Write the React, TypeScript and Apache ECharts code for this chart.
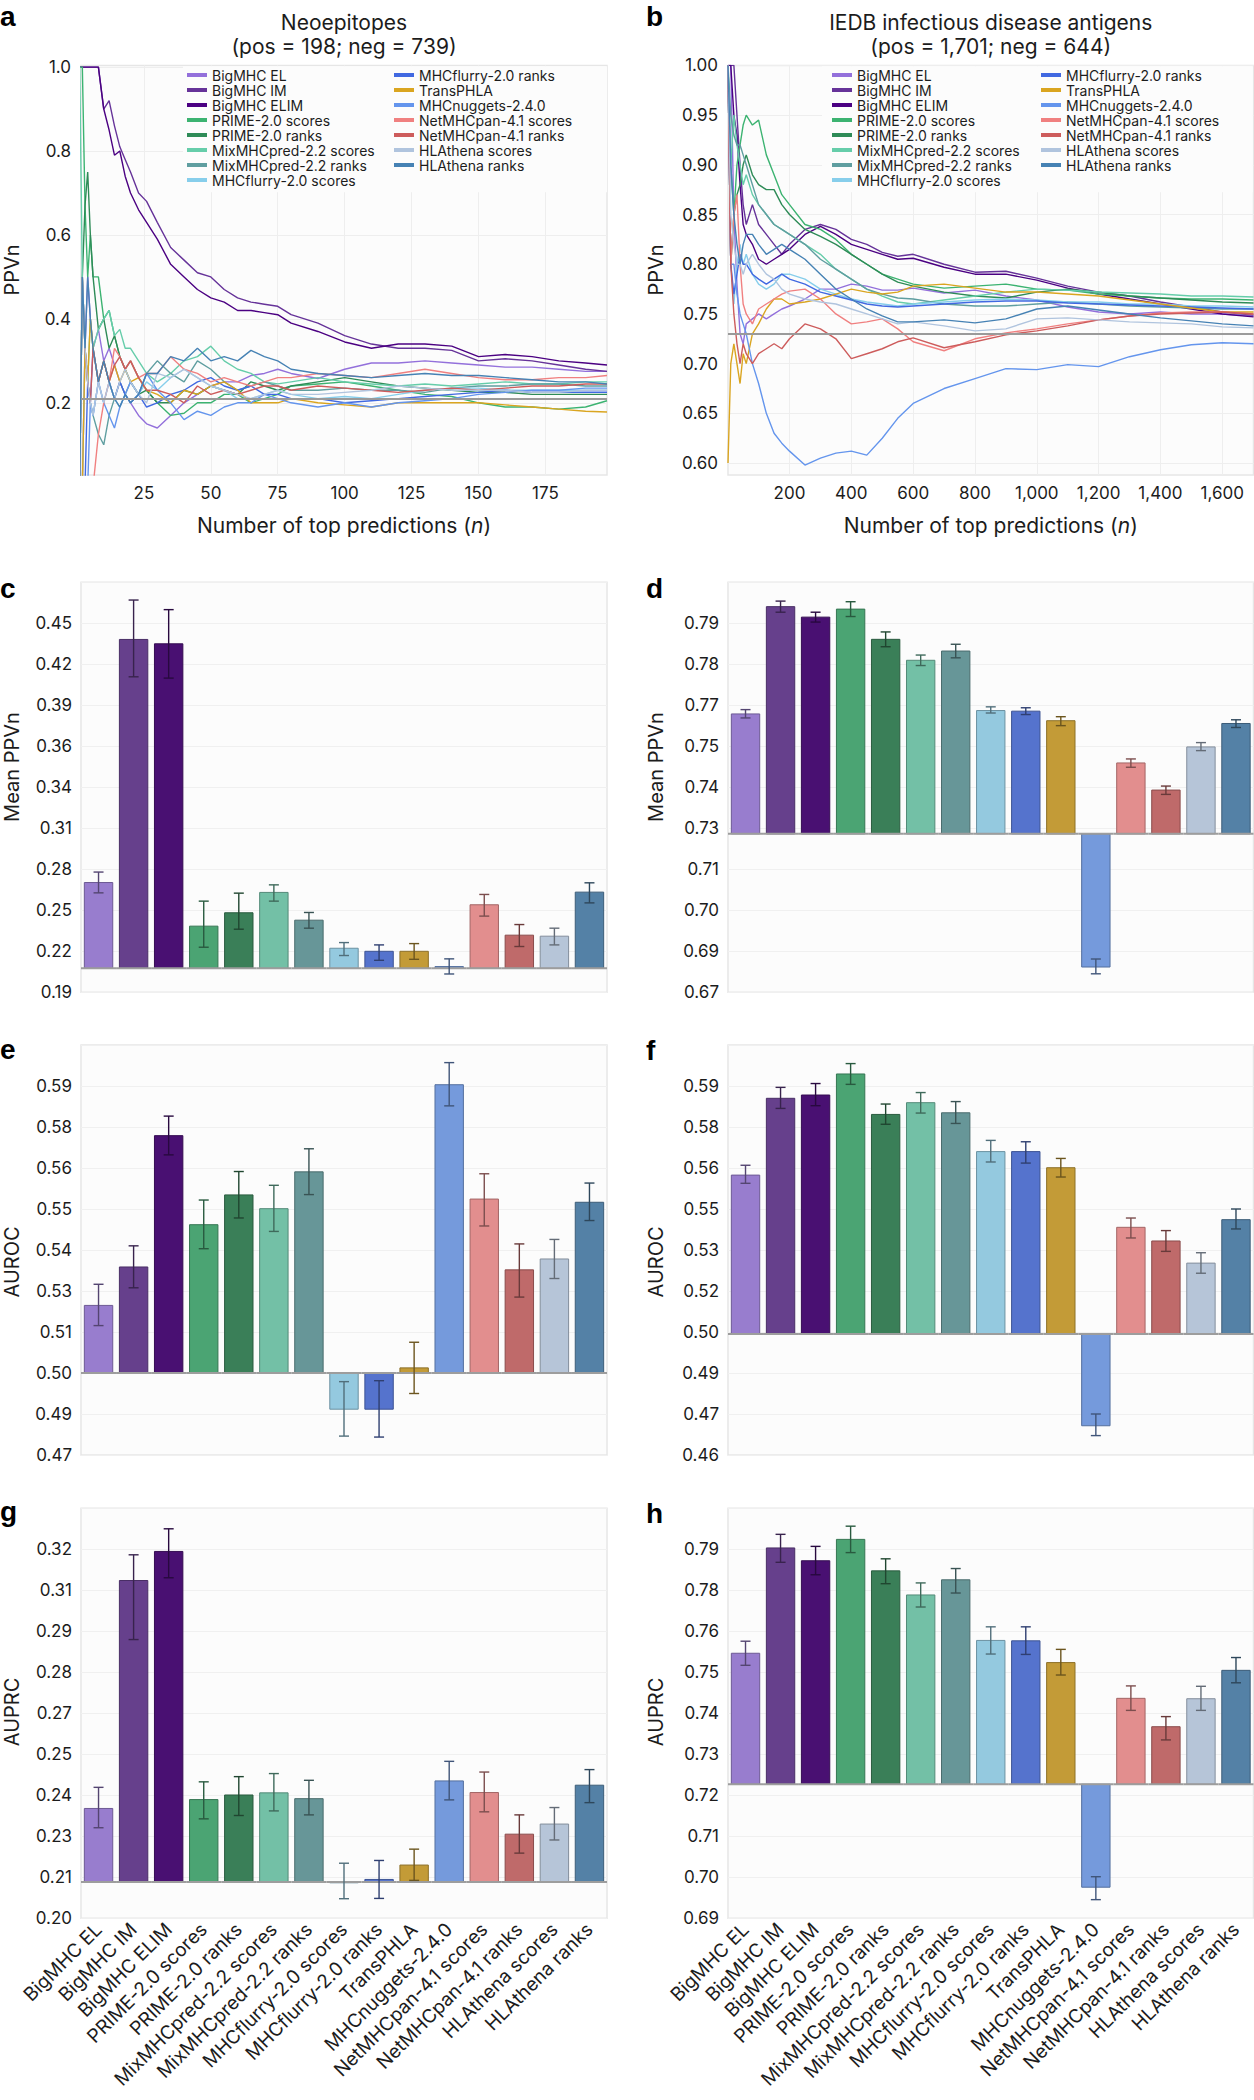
import React, { useEffect, useRef } from "react";
import * as echarts from "echarts";

const FONT = 'Inter, "Noto Sans", "DejaVu Sans", sans-serif';
const INK = "#1c1c1c";

// ---------- categories ----------
const methods = [
  "BigMHC EL", "BigMHC IM", "BigMHC ELIM", "PRIME-2.0 scores", "PRIME-2.0 ranks",
  "MixMHCpred-2.2 scores", "MixMHCpred-2.2 ranks", "MHCflurry-2.0 scores", "MHCflurry-2.0 ranks",
  "TransPHLA", "MHCnuggets-2.4.0", "NetMHCpan-4.1 scores", "NetMHCpan-4.1 ranks",
  "HLAthena scores", "HLAthena ranks",
];
const lineColors = [
  "#9370db", "#663399", "#4b0082", "#3cb371", "#2e8b57", "#66cdaa", "#5f9ea0", "#87ceeb",
  "#4169e1", "#daa520", "#6495ed", "#f08080", "#cd5c5c", "#b0c4de", "#4682b4",
];
const barColors = [
  "#987dce", "#66408c", "#491072", "#4ba473", "#3a7f58", "#73c0a6", "#679698", "#94c9df",
  "#5573cd", "#c39b37", "#759adc", "#e28e8e", "#bf6a6a", "#b6c5d8", "#5481a6",
];

// ---------- panel a: PPVn vs n (neoepitopes) ----------
const nNeo = [1, 2, 3, 4, 5, 6, 8, 10, 12, 14, 16, 18, 20, 23, 26, 30, 35, 40, 45, 50, 55, 60, 65, 70, 75, 80, 90, 100, 110, 120, 130, 140, 150, 160, 170, 180, 190, 198];
const neoEL = [0, 0, 0.33, 0.5, 0.4, 0.33, 0.375, 0.3, 0.33, 0.29, 0.25, 0.22, 0.2, 0.17, 0.15, 0.14, 0.17, 0.2, 0.22, 0.24, 0.25, 0.25, 0.265, 0.27, 0.28, 0.27, 0.258, 0.28, 0.295, 0.295, 0.3, 0.295, 0.29, 0.285, 0.285, 0.28, 0.275, 0.275];
const neoIM = [1, 1, 1, 1, 1, 1, 1, 0.9, 0.92, 0.86, 0.81, 0.78, 0.75, 0.7, 0.68, 0.63, 0.57, 0.54, 0.51, 0.5, 0.47, 0.45, 0.44, 0.435, 0.43, 0.41, 0.39, 0.36, 0.34, 0.33, 0.33, 0.325, 0.3, 0.305, 0.3, 0.29, 0.28, 0.275];
const neoELIM = [1, 1, 1, 1, 1, 1, 1, 0.9, 0.85, 0.79, 0.8, 0.74, 0.7, 0.66, 0.63, 0.59, 0.53, 0.5, 0.47, 0.45, 0.44, 0.42, 0.42, 0.415, 0.41, 0.39, 0.37, 0.345, 0.33, 0.34, 0.34, 0.335, 0.31, 0.315, 0.31, 0.3, 0.295, 0.29];
const neoPrimeS = [1, 1, 0.67, 0.5, 0.6, 0.5, 0.5, 0.4, 0.42, 0.36, 0.31, 0.28, 0.3, 0.26, 0.23, 0.2, 0.17, 0.175, 0.2, 0.2, 0.22, 0.22, 0.2, 0.21, 0.22, 0.24, 0.245, 0.25, 0.24, 0.23, 0.22, 0.215, 0.2, 0.19, 0.19, 0.185, 0.19, 0.205];
const neoPrimeR = [0, 0.5, 0.67, 0.75, 0.6, 0.5, 0.375, 0.4, 0.33, 0.36, 0.31, 0.28, 0.25, 0.22, 0.23, 0.2, 0.2, 0.23, 0.22, 0.24, 0.23, 0.22, 0.25, 0.24, 0.23, 0.24, 0.25, 0.26, 0.25, 0.24, 0.235, 0.23, 0.225, 0.225, 0.22, 0.22, 0.22, 0.22];
const neoMixS = [1, 0.5, 0.33, 0.25, 0.4, 0.33, 0.375, 0.4, 0.42, 0.36, 0.375, 0.33, 0.33, 0.3, 0.27, 0.25, 0.27, 0.3, 0.31, 0.335, 0.3, 0.28, 0.27, 0.25, 0.245, 0.25, 0.26, 0.25, 0.245, 0.24, 0.245, 0.24, 0.245, 0.25, 0.245, 0.245, 0.25, 0.25];
const neoMixR = [0, 0.5, 0.33, 0.25, 0.2, 0.17, 0.125, 0.1, 0.17, 0.21, 0.25, 0.22, 0.25, 0.22, 0.27, 0.3, 0.27, 0.25, 0.3, 0.28, 0.25, 0.23, 0.24, 0.25, 0.24, 0.23, 0.23, 0.235, 0.23, 0.23, 0.225, 0.235, 0.24, 0.24, 0.245, 0.245, 0.24, 0.24];
const neoFlurryS = [0, 0, 0.33, 0.25, 0.2, 0.17, 0.25, 0.2, 0.25, 0.21, 0.19, 0.22, 0.2, 0.22, 0.25, 0.23, 0.26, 0.28, 0.26, 0.24, 0.23, 0.21, 0.21, 0.22, 0.23, 0.22, 0.21, 0.215, 0.21, 0.22, 0.23, 0.235, 0.235, 0.23, 0.23, 0.23, 0.23, 0.23];
const neoFlurryR = [0, 0, 0, 0.25, 0.2, 0.33, 0.25, 0.3, 0.25, 0.21, 0.25, 0.22, 0.2, 0.22, 0.19, 0.2, 0.22, 0.23, 0.25, 0.26, 0.24, 0.23, 0.24, 0.22, 0.22, 0.21, 0.21, 0.2, 0.205, 0.21, 0.215, 0.22, 0.225, 0.23, 0.225, 0.225, 0.225, 0.225];
const neoTrans = [0, 0, 0.33, 0.25, 0.4, 0.33, 0.25, 0.3, 0.25, 0.29, 0.25, 0.28, 0.25, 0.26, 0.23, 0.22, 0.2, 0.23, 0.22, 0.24, 0.25, 0.23, 0.2, 0.2, 0.2, 0.21, 0.2, 0.195, 0.19, 0.2, 0.2, 0.2, 0.2, 0.195, 0.19, 0.185, 0.18, 0.178];
const neoNuggets = [0, 0, 0, 0, 0.2, 0.17, 0.25, 0.2, 0.17, 0.14, 0.19, 0.22, 0.25, 0.22, 0.27, 0.23, 0.2, 0.16, 0.18, 0.17, 0.19, 0.2, 0.2, 0.22, 0.21, 0.2, 0.19, 0.2, 0.19, 0.2, 0.205, 0.21, 0.22, 0.225, 0.23, 0.23, 0.235, 0.235];
const neoNetS = [0, 0, 0, 0, 0, 0, 0.125, 0.2, 0.25, 0.33, 0.31, 0.28, 0.3, 0.26, 0.27, 0.27, 0.31, 0.28, 0.27, 0.25, 0.26, 0.25, 0.24, 0.25, 0.26, 0.26, 0.27, 0.265, 0.26, 0.27, 0.28, 0.27, 0.26, 0.255, 0.255, 0.26, 0.26, 0.265];
const neoNetR = [0, 0.5, 0.33, 0.25, 0.2, 0.33, 0.25, 0.3, 0.25, 0.29, 0.31, 0.28, 0.3, 0.26, 0.23, 0.23, 0.22, 0.2, 0.24, 0.22, 0.23, 0.22, 0.23, 0.24, 0.24, 0.23, 0.24, 0.235, 0.23, 0.225, 0.23, 0.235, 0.23, 0.235, 0.24, 0.24, 0.245, 0.245];
const neoHlaS = [0, 0.5, 0.33, 0.25, 0.2, 0.17, 0.25, 0.2, 0.25, 0.21, 0.25, 0.28, 0.25, 0.22, 0.2, 0.27, 0.26, 0.28, 0.26, 0.24, 0.23, 0.22, 0.21, 0.22, 0.23, 0.22, 0.22, 0.225, 0.23, 0.24, 0.235, 0.23, 0.23, 0.23, 0.225, 0.225, 0.23, 0.23];
const neoHlaR = [0, 0.5, 0.33, 0.5, 0.4, 0.33, 0.25, 0.3, 0.25, 0.21, 0.19, 0.22, 0.2, 0.22, 0.27, 0.27, 0.31, 0.3, 0.33, 0.3, 0.31, 0.3, 0.325, 0.31, 0.3, 0.28, 0.27, 0.265, 0.26, 0.265, 0.27, 0.265, 0.265, 0.26, 0.255, 0.25, 0.25, 0.245];
const ppvNeo = [neoEL, neoIM, neoELIM, neoPrimeS, neoPrimeR, neoMixS, neoMixR, neoFlurryS, neoFlurryR, neoTrans, neoNuggets, neoNetS, neoNetR, neoHlaS, neoHlaR];

// ---------- panel b: PPVn vs n (IEDB) ----------
const nIedb = [1, 10, 20, 30, 40, 50, 60, 80, 100, 125, 150, 175, 200, 250, 300, 350, 400, 450, 500, 550, 600, 700, 800, 900, 1000, 1100, 1200, 1300, 1400, 1500, 1600, 1701];
const iedbEL = [1, 1, 0.85, 0.78, 0.73, 0.72, 0.74, 0.745, 0.75, 0.745, 0.75, 0.755, 0.758, 0.765, 0.775, 0.775, 0.78, 0.778, 0.774, 0.774, 0.776, 0.771, 0.774, 0.768, 0.764, 0.757, 0.752, 0.75, 0.752, 0.75, 0.75, 0.748];
const iedbIM = [1, 1, 1, 0.95, 0.9, 0.86, 0.84, 0.86, 0.84, 0.83, 0.82, 0.81, 0.82, 0.835, 0.84, 0.835, 0.825, 0.82, 0.812, 0.808, 0.81, 0.8, 0.792, 0.793, 0.786, 0.778, 0.772, 0.768, 0.762, 0.757, 0.752, 0.749];
const iedbELIM = [1, 1, 0.95, 0.93, 0.88, 0.84, 0.83, 0.82, 0.805, 0.8, 0.805, 0.81, 0.815, 0.83, 0.838, 0.83, 0.82, 0.815, 0.81, 0.805, 0.806, 0.797, 0.79, 0.79, 0.784, 0.776, 0.77, 0.765, 0.76, 0.755, 0.75, 0.747];
const iedbPrimeS = [1, 0.9, 0.85, 0.9, 0.92, 0.94, 0.95, 0.94, 0.945, 0.91, 0.89, 0.87, 0.86, 0.84, 0.835, 0.825, 0.81, 0.8, 0.79, 0.785, 0.78, 0.776, 0.778, 0.78, 0.775, 0.774, 0.77, 0.768, 0.766, 0.765, 0.765, 0.764];
const iedbPrimeR = [1, 0.8, 0.85, 0.87, 0.88, 0.9, 0.91, 0.89, 0.88, 0.875, 0.875, 0.86, 0.85, 0.835, 0.828, 0.82, 0.81, 0.8, 0.79, 0.782, 0.778, 0.772, 0.768, 0.766, 0.772, 0.775, 0.772, 0.768, 0.766, 0.764, 0.762, 0.761];
const iedbMixS = [1, 0.9, 0.95, 0.92, 0.9, 0.88, 0.89, 0.87, 0.86, 0.85, 0.84, 0.835, 0.83, 0.82, 0.81, 0.795, 0.785, 0.775, 0.768, 0.762, 0.76, 0.764, 0.768, 0.772, 0.775, 0.774, 0.772, 0.771, 0.77, 0.768, 0.768, 0.767];
const iedbMixR = [1, 0.95, 0.93, 0.92, 0.92, 0.91, 0.9, 0.88, 0.86, 0.85, 0.84, 0.835, 0.83, 0.82, 0.805, 0.795, 0.785, 0.775, 0.77, 0.766, 0.765, 0.76, 0.758, 0.758, 0.76, 0.762, 0.76, 0.758, 0.757, 0.756, 0.755, 0.755];
const iedbFlurryS = [1, 0.8, 0.76, 0.8, 0.82, 0.8, 0.81, 0.79, 0.78, 0.775, 0.78, 0.79, 0.79, 0.785, 0.775, 0.77, 0.765, 0.762, 0.76, 0.758, 0.76, 0.762, 0.764, 0.765, 0.764, 0.762, 0.762, 0.76, 0.76, 0.758, 0.758, 0.757];
const iedbFlurryR = [1, 0.8, 0.77, 0.79, 0.81, 0.8, 0.8, 0.79, 0.785, 0.78, 0.785, 0.79, 0.785, 0.78, 0.772, 0.768, 0.764, 0.76, 0.758, 0.757, 0.758, 0.76, 0.762, 0.763, 0.763, 0.761, 0.76, 0.759, 0.758, 0.757, 0.756, 0.755];
const iedbTrans = [0.6, 0.7, 0.72, 0.7, 0.68, 0.71, 0.7, 0.73, 0.74, 0.755, 0.765, 0.765, 0.76, 0.762, 0.765, 0.77, 0.775, 0.772, 0.77, 0.772, 0.778, 0.78, 0.776, 0.772, 0.772, 0.77, 0.768, 0.764, 0.76, 0.756, 0.752, 0.752];
const iedbNuggets = [1, 0.8, 0.8, 0.77, 0.75, 0.74, 0.73, 0.7, 0.68, 0.65, 0.63, 0.62, 0.612, 0.598, 0.605, 0.61, 0.612, 0.608, 0.625, 0.645, 0.66, 0.675, 0.685, 0.695, 0.694, 0.699, 0.697, 0.707, 0.714, 0.719, 0.721, 0.72];
const iedbNetS = [1, 0.8, 0.85, 0.87, 0.8, 0.76, 0.75, 0.74, 0.755, 0.76, 0.765, 0.77, 0.773, 0.775, 0.765, 0.75, 0.74, 0.742, 0.745, 0.735, 0.722, 0.713, 0.725, 0.731, 0.735, 0.74, 0.744, 0.748, 0.751, 0.752, 0.752, 0.75];
const iedbNetR = [1, 0.8, 0.75, 0.72, 0.7, 0.72, 0.71, 0.7, 0.71, 0.715, 0.72, 0.715, 0.725, 0.74, 0.735, 0.725, 0.705, 0.71, 0.715, 0.722, 0.726, 0.716, 0.722, 0.729, 0.733, 0.738, 0.744, 0.748, 0.75, 0.751, 0.752, 0.75];
const iedbHlaS = [1, 0.85, 0.82, 0.8, 0.8, 0.79, 0.8, 0.81, 0.8, 0.79, 0.785, 0.775, 0.77, 0.765, 0.762, 0.76, 0.755, 0.75, 0.745, 0.74, 0.742, 0.738, 0.733, 0.735, 0.745, 0.746, 0.744, 0.742, 0.741, 0.74, 0.737, 0.736];
const iedbHlaR = [1, 0.9, 0.85, 0.82, 0.8, 0.82, 0.83, 0.83, 0.82, 0.81, 0.815, 0.82, 0.815, 0.805, 0.79, 0.775, 0.765, 0.755, 0.748, 0.742, 0.742, 0.744, 0.741, 0.745, 0.755, 0.758, 0.754, 0.75, 0.746, 0.743, 0.74, 0.738];
const ppvIedb = [iedbEL, iedbIM, iedbELIM, iedbPrimeS, iedbPrimeR, iedbMixS, iedbMixR, iedbFlurryS, iedbFlurryR, iedbTrans, iedbNuggets, iedbNetS, iedbNetR, iedbHlaS, iedbHlaR];

// random-classifier baselines
const baseNeo = 0.2113; // 198 / 937
const baseIedb = 0.7254; // 1701 / 2345
const baseRoc = 0.5;

// tick values for panels a and b
const ticksXNeo = [25, 50, 75, 100, 125, 150, 175];
const ticksYNeo = [0.2, 0.4, 0.6, 0.8, 1.0];
const ticksXIedb = [200, 400, 600, 800, 1000, 1200, 1400, 1600];
const ticksYIedb = [0.6, 0.65, 0.7, 0.75, 0.8, 0.85, 0.9, 0.95, 1.0];

// ---------- bar panels: mean, lower, upper ----------
const meanPpvNeo = [0.2703, 0.4375, 0.4345, 0.2403, 0.2495, 0.2635, 0.2444, 0.2251, 0.2230, 0.2230, 0.2125, 0.2550, 0.2341, 0.2334, 0.2637];
const meanPpvNeoLo = [0.2632, 0.4118, 0.4109, 0.2258, 0.2382, 0.2575, 0.2389, 0.2201, 0.2168, 0.2175, 0.2074, 0.2472, 0.2263, 0.2274, 0.2563];
const meanPpvNeoHi = [0.2775, 0.4646, 0.4580, 0.2575, 0.2630, 0.2687, 0.2497, 0.2290, 0.2274, 0.2283, 0.2178, 0.2621, 0.2414, 0.2389, 0.2701];

const meanPpvIedb = [0.7643, 0.7991, 0.7957, 0.7983, 0.7885, 0.7817, 0.7847, 0.7654, 0.7652, 0.7621, 0.6822, 0.7484, 0.7396, 0.7536, 0.7612];
const meanPpvIedbLo = [0.7630, 0.7973, 0.7941, 0.7959, 0.7861, 0.7800, 0.7825, 0.7646, 0.7641, 0.7605, 0.6800, 0.7470, 0.7382, 0.7524, 0.7599];
const meanPpvIedbHi = [0.7657, 0.8009, 0.7973, 0.8007, 0.7909, 0.7834, 0.7869, 0.7666, 0.7663, 0.7634, 0.6848, 0.7497, 0.7409, 0.7550, 0.7624];

const aurocNeo = [0.5211, 0.5331, 0.5741, 0.5463, 0.5556, 0.5513, 0.5628, 0.4887, 0.4887, 0.5016, 0.5900, 0.5543, 0.5322, 0.5356, 0.5533];
const aurocNeoLo = [0.5148, 0.5266, 0.5681, 0.5388, 0.5484, 0.5442, 0.5557, 0.4803, 0.4800, 0.4936, 0.5834, 0.5459, 0.5237, 0.5295, 0.5476];
const aurocNeoHi = [0.5277, 0.5397, 0.5802, 0.5540, 0.5629, 0.5586, 0.5700, 0.4973, 0.4976, 0.5096, 0.5969, 0.5622, 0.5403, 0.5417, 0.5593];

const aurocIedb = [0.5581, 0.5862, 0.5874, 0.5951, 0.5803, 0.5846, 0.5809, 0.5667, 0.5667, 0.5608, 0.4664, 0.5390, 0.5340, 0.5259, 0.5418];
const aurocIedbLo = [0.5551, 0.5825, 0.5835, 0.5913, 0.5767, 0.5808, 0.5770, 0.5629, 0.5625, 0.5574, 0.4628, 0.5351, 0.5302, 0.5222, 0.5384];
const aurocIedbHi = [0.5617, 0.5902, 0.5916, 0.5989, 0.5841, 0.5883, 0.5850, 0.5708, 0.5703, 0.5642, 0.4707, 0.5424, 0.5378, 0.5297, 0.5457];

const auprcNeo = [0.2353, 0.3098, 0.3193, 0.2382, 0.2397, 0.2404, 0.2385, 0.2110, 0.2121, 0.2168, 0.2443, 0.2405, 0.2269, 0.2302, 0.2429];
const auprcNeoLo = [0.2290, 0.2905, 0.3107, 0.2319, 0.2330, 0.2345, 0.2332, 0.2058, 0.2059, 0.2118, 0.2381, 0.2342, 0.2207, 0.2250, 0.2372];
const auprcNeoHi = [0.2422, 0.3182, 0.3267, 0.2440, 0.2457, 0.2467, 0.2445, 0.2174, 0.2183, 0.2220, 0.2507, 0.2472, 0.2332, 0.2356, 0.2480];

const auprcIedb = [0.7591, 0.7862, 0.7829, 0.7884, 0.7803, 0.7741, 0.7780, 0.7624, 0.7623, 0.7567, 0.6989, 0.7475, 0.7402, 0.7474, 0.7547];
const auprcIedbLo = [0.7560, 0.7825, 0.7793, 0.7850, 0.7770, 0.7710, 0.7746, 0.7589, 0.7588, 0.7535, 0.6957, 0.7444, 0.7368, 0.7444, 0.7515];
const auprcIedbHi = [0.7622, 0.7897, 0.7866, 0.7918, 0.7834, 0.7772, 0.7809, 0.7659, 0.7659, 0.7601, 0.7016, 0.7507, 0.7428, 0.7506, 0.7580];

// bar-panel y axes: first tick and tick step (10 steps per panel)
const axisMeanPpvNeo = { min: 0.1948, step: 0.0282 };
const axisMeanPpvIedb = { min: 0.674, step: 0.0133 };
const axisAurocNeo = { min: 0.4744, step: 0.0128 };
const axisAurocIedb = { min: 0.4557, step: 0.015 };
const axisAuprcNeo = { min: 0.1994, step: 0.0134 };
const axisAuprcIedb = { min: 0.6909, step: 0.01055 };

function shade(hex: string, f: number) {
  const n = parseInt(hex.slice(1), 16);
  const r = Math.round(((n >> 16) & 255) * f);
  const g = Math.round(((n >> 8) & 255) * f);
  const b = Math.round((n & 255) * f);
  return `rgb(${r},${g},${b})`;
}

const LEFT_X = 81;
const RIGHT_X = 728;
const PW = 526;
const rowsTop = [65.4, 582.3, 1045, 1508.3];
const rowsH = [409.6, 410, 410, 410];

export default function App() {
  const ref = useRef<HTMLDivElement>(null);

  useEffect(() => {
    document.body.style.margin = "0";
    if (!ref.current) return;
    const chart = echarts.init(ref.current, null, { renderer: "svg" });

    const grids: any[] = [];
    const xAxes: any[] = [];
    const yAxes: any[] = [];
    const series: any[] = [];
    const gridBase = {
      show: true,
      backgroundColor: "#fcfcfc",
      borderColor: "#e6e6e6",
      borderWidth: 1.5,
      containLabel: false,
    };
    const lbl = { fontFamily: FONT, fontSize: 17, color: INK };
    const split = { show: true, lineStyle: { color: "#eeeeee", width: 1 } };

    // ---- line panels (grid 0, 1)
    const linePanels = [
      { left: LEFT_X, n: nNeo, ppv: ppvNeo, base: baseNeo, xmin: 1.5, xmax: 198, ymin: 0.028, ymax: 1.004, xt: ticksXNeo, yt: ticksYNeo, yd: 1 },
      { left: RIGHT_X, n: nIedb, ppv: ppvIedb, base: baseIedb, xmin: 1, xmax: 1701, ymin: 0.588, ymax: 1.0, xt: ticksXIedb, yt: ticksYIedb, yd: 2 },
    ];
    linePanels.forEach((p, gi) => {
      grids.push({ ...gridBase, left: p.left, top: rowsTop[0], width: gi === 0 ? PW : 1253.5 - RIGHT_X, height: rowsH[0] });
      xAxes.push({
        gridIndex: gi, type: "value", min: p.xmin, max: p.xmax,
        axisLine: { show: false },
        axisTick: { show: false, customValues: p.xt },
        axisLabel: { ...lbl, margin: 9, customValues: p.xt, formatter: (v: number) => v.toLocaleString("en-US") },
        splitLine: split,
      });
      yAxes.push({
        gridIndex: gi, type: "value", min: p.ymin, max: p.ymax,
        axisLine: { show: false },
        axisTick: { show: false, customValues: p.yt },
        axisLabel: { ...lbl, margin: 10, customValues: p.yt, formatter: (v: number) => v.toFixed(p.yd) },
        splitLine: split,
      });
      p.ppv.forEach((arr, k) => {
        series.push({
          type: "line", name: methods[k], xAxisIndex: gi, yAxisIndex: gi,
          data: p.n.map((n, i) => [n, arr[i]]),
          showSymbol: false, symbol: "none", silent: true, z: 3,
          lineStyle: { width: 1.4, color: lineColors[k] },
          itemStyle: { color: lineColors[k] },
          markLine: k === 0 ? {
            silent: true, symbol: ["none", "none"], label: { show: false },
            lineStyle: { color: "#9a9a9a", width: 2, type: "solid" },
            data: [{ yAxis: p.base }],
          } : undefined,
        });
      });
    });

    // ---- bar panels (grid 2..7)
    const barPanels = [
      { left: LEFT_X, row: 1, mean: meanPpvNeo, lo: meanPpvNeoLo, hi: meanPpvNeoHi, base: baseNeo, ax: axisMeanPpvNeo, labels: false },
      { left: RIGHT_X, row: 1, mean: meanPpvIedb, lo: meanPpvIedbLo, hi: meanPpvIedbHi, base: baseIedb, ax: axisMeanPpvIedb, labels: false },
      { left: LEFT_X, row: 2, mean: aurocNeo, lo: aurocNeoLo, hi: aurocNeoHi, base: baseRoc, ax: axisAurocNeo, labels: false },
      { left: RIGHT_X, row: 2, mean: aurocIedb, lo: aurocIedbLo, hi: aurocIedbHi, base: baseRoc, ax: axisAurocIedb, labels: false },
      { left: LEFT_X, row: 3, mean: auprcNeo, lo: auprcNeoLo, hi: auprcNeoHi, base: baseNeo, ax: axisAuprcNeo, labels: true },
      { left: RIGHT_X, row: 3, mean: auprcIedb, lo: auprcIedbLo, hi: auprcIedbHi, base: baseIedb, ax: axisAuprcIedb, labels: true },
    ];
    barPanels.forEach((p, j) => {
      const gi = j + 2;
      grids.push({ ...gridBase, left: p.left, top: rowsTop[p.row], width: p.left === LEFT_X ? PW : 1253.5 - RIGHT_X, height: rowsH[p.row] });
      xAxes.push({
        gridIndex: gi, type: "category", data: methods,
        axisLine: { show: false }, axisTick: { show: false }, splitLine: { show: false },
        axisLabel: p.labels
          ? { show: true, interval: 0, rotate: 45, fontFamily: FONT, fontSize: 19, color: INK, margin: 8 }
          : { show: false },
      });
      const yMax = +(p.ax.min + 10 * p.ax.step).toFixed(6);
      yAxes.push({
        gridIndex: gi, type: "value", min: p.ax.min, max: yMax, interval: p.ax.step,
        axisLine: { show: false }, axisTick: { show: false },
        axisLabel: { ...lbl, margin: 9, showMaxLabel: false, formatter: (v: number) => v.toFixed(2) },
        splitLine: { show: true, lineStyle: { color: "#f0f0f0", width: 1 } },
      });
      const base = p.base;
      series.push({
        type: "custom", xAxisIndex: gi, yAxisIndex: gi, silent: true, z: 2,
        data: p.mean.map((m, i) => [i, m, p.lo[i], p.hi[i]]),
        encode: { x: 0, y: 1 },
        renderItem: (params: any, api: any) => {
          const i = api.value(0);
          const v = api.value(1);
          const l = api.value(2);
          const h = api.value(3);
          const band = api.size([1, 0])[0];
          const bw = band * 0.81;
          const pb = api.coord([i, base]);
          const pv = api.coord([i, v]);
          const pl = api.coord([i, l]);
          const ph = api.coord([i, h]);
          const cx = pb[0];
          const col = barColors[i];
          const edge = shade(col, 0.72);
          const err = shade(col, 0.55);
          const cap = 5;
          const es = { stroke: err, lineWidth: 1.4 };
          return {
            type: "group",
            children: [
              { type: "rect", shape: { x: cx - bw / 2, y: Math.min(pb[1], pv[1]), width: bw, height: Math.abs(pv[1] - pb[1]) }, style: { fill: col, stroke: edge, lineWidth: 1 } },
              { type: "line", shape: { x1: cx - band / 2, y1: pb[1], x2: cx + band / 2, y2: pb[1] }, style: { stroke: "#9d9d9d", lineWidth: 2 } },
              { type: "line", shape: { x1: cx, y1: pl[1], x2: cx, y2: ph[1] }, style: es },
              { type: "line", shape: { x1: cx - cap, y1: ph[1], x2: cx + cap, y2: ph[1] }, style: es },
              { type: "line", shape: { x1: cx - cap, y1: pl[1], x2: cx + cap, y2: pl[1] }, style: es },
            ],
          };
        },
      });
    });

    // ---- legends
    const legendBase = {
      orient: "vertical", itemWidth: 20, itemHeight: 4, itemGap: 0, padding: 0,
      icon: "rect", selectedMode: false, z: 5,
      textStyle: { fontFamily: FONT, fontSize: 14, color: INK, lineHeight: 15 },
    };
    const legends = [
      { ...legendBase, left: 187, top: 67.5, data: methods.slice(0, 8) },
      { ...legendBase, left: 394, top: 67.5, data: methods.slice(8) },
      { ...legendBase, left: 832, top: 67.5, data: methods.slice(0, 8) },
      { ...legendBase, left: 1041, top: 67.5, data: methods.slice(8) },
    ];

    // ---- texts
    const txt = (text: string, x: number, y: number, size: number, extra: any = {}) => ({
      type: "text", x, y, z: 10,
      style: { text, fontFamily: FONT, fontSize: size, fill: INK, align: "center", verticalAlign: "middle", ...extra },
    });
    const letter = (t: string, x: number, y: number) => ({
      type: "text", x, y, z: 10,
      style: { text: t, fontFamily: '"Liberation Sans", Arial, sans-serif', fontWeight: "bold", fontSize: 28, fill: "#000", align: "left", verticalAlign: "middle" },
    });
    const ytitle = (t: string, x: number, y: number) => ({
      type: "text", x, y, rotation: Math.PI / 2, z: 10,
      style: { text: t, fontFamily: FONT, fontSize: 20, fill: INK, align: "center", verticalAlign: "middle" },
    });
    const cA = LEFT_X + PW / 2;
    const cB = (RIGHT_X + 1253.5) / 2;
    const italic = { rich: { i: { fontFamily: FONT, fontSize: 21, fontStyle: "italic", fill: INK } } };
    const graphic = [
      { type: "rect", z: 1, shape: { x: 183, y: 66.2, width: 424, height: 126 }, style: { fill: "#fcfcfc" } },
      { type: "rect", z: 1, shape: { x: 822, y: 66.2, width: 430.8, height: 126 }, style: { fill: "#fcfcfc" } },
      letter("a", 0, 16), letter("b", 646, 16), letter("c", 0, 588), letter("d", 646, 588),
      letter("e", 0, 1049), letter("f", 646, 1050), letter("g", 0, 1511), letter("h", 646, 1513),
      txt("Neoepitopes", cA, 22, 21), txt("(pos = 198; neg = 739)", cA, 46, 21),
      txt("IEDB infectious disease antigens", cB, 22, 21), txt("(pos = 1,701; neg = 644)", cB, 46, 21),
      txt("Number of top predictions ({i|n})", cA, 525, 21, italic),
      txt("Number of top predictions ({i|n})", cB, 525, 21, italic),
      ytitle("PPVn", 12, 270), ytitle("PPVn", 656, 270),
      ytitle("Mean PPVn", 12, 767), ytitle("Mean PPVn", 656, 767),
      ytitle("AUROC", 12, 1262), ytitle("AUROC", 656, 1262),
      ytitle("AUPRC", 12, 1712), ytitle("AUPRC", 656, 1712),
    ];

    chart.setOption({
      animation: false,
      backgroundColor: "#ffffff",
      textStyle: { fontFamily: FONT },
      grid: grids,
      xAxis: xAxes,
      yAxis: yAxes,
      legend: legends,
      series,
      graphic,
    });
    return () => chart.dispose();
  }, []);

  return <div ref={ref} style={{ width: 1254, height: 2100 }} />;
}
